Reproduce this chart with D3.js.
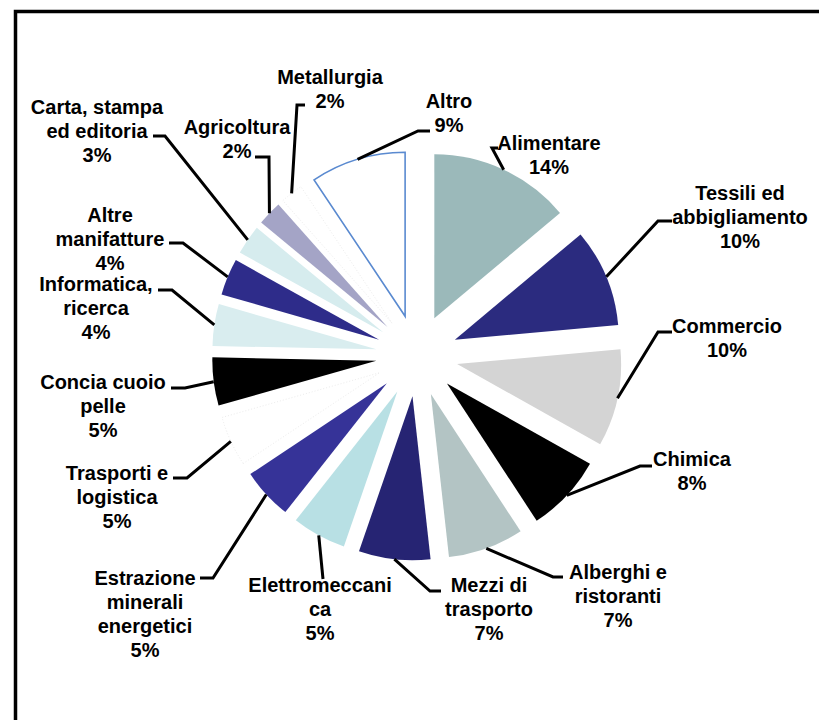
<!DOCTYPE html>
<html>
<head>
<meta charset="utf-8">
<script src="https://cdn.jsdelivr.net/npm/d3@7/dist/d3.min.js"></script>
<style>
  body { margin: 0; background: #fff; }
  svg text { font-family: "Liberation Sans", Arial, sans-serif; font-weight: bold; font-size: 20px; fill: #000; }
</style>
</head>
<body>
<svg width="819" height="720"></svg>
<script>
/* data (shares in %, slice order clockwise from 12 o'clock) */
var categories = [
  "Alimentare", "Tessili ed\nabbigliamento", "Commercio", "Chimica",
  "Alberghi e\nristoranti", "Mezzi di\ntrasporto", "Elettromeccani\nca",
  "Estrazione\nminerali\nenergetici", "Trasporti e\nlogistica", "Concia cuoio\npelle",
  "Informatica,\nricerca", "Altre\nmanifatture", "Carta, stampa\ned editoria",
  "Agricoltura", "Metallurgia", "Altro"
];
var shares = [13.8, 9.6, 9.5, 7.6, 7.4, 7.0, 5.3, 5.0, 4.9, 4.7, 4.1, 3.6, 2.9, 2.4, 2.2, 9.3];

/* styles */
var fills = ["#9bb9ba", "#2b2b7f", "#d4d4d4", "#000000", "#b3c4c4", "#262473", "#b8e0e4",
             "#363398", "#ffffff", "#000000", "#d9edef", "#2e2c8a", "#d6ecee", "#a4a4c6",
             "#ffffff", "#ffffff"];
var strokes = {8: "#ececec", 14: "#ececec", 15: "#5a8ad0"};

/* label layout: [x, y of first line, elbow x, elbow y, stub end x] */
var labelPos = [
  [549, 143, 492, 148, 498],
  [740, 193, 658, 221, 672],
  [727, 326, 658, 332, 672],
  [692, 459, 640, 466, 652],
  [618, 572, 553, 577, 563],
  [489, 585, 430, 591, 441],
  [320, 585, 323, 579, 323],
  [145, 578, 213, 578, 200],
  [117, 473, 187, 478, 173],
  [103, 382, 185, 388, 171],
  [96, 284, 172, 290, 158],
  [110, 215, 183, 243, 169],
  [97, 107, 165, 136, 153],
  [237, 127, 269, 157, 255],
  [330, 77, 297, 105, 305],
  [449, 101, 418, 131, 430]
];

var svg = d3.select("svg"),
    cx = 417, cy = 355.5,
    R = 164,
    explode = 41,
    lineH = 24;

svg.append("rect")
  .attr("x", 15.5).attr("y", 11.5)
  .attr("width", 900).attr("height", 900)
  .attr("fill", "none")
  .attr("stroke", "#000")
  .attr("stroke-width", 3.5);

var total = d3.sum(shares);

var pie = d3.pie().sort(null).value(function(d) { return d; });
var arcs = pie(shares);

var arc = d3.arc().innerRadius(0).outerRadius(R);

function dir(a) { return [Math.sin(a), -Math.cos(a)]; }

var g = svg.append("g").attr("transform", "translate(" + cx + "," + cy + ")");

g.selectAll("path.slice")
  .data(arcs)
  .enter().append("path")
  .attr("class", "slice")
  .attr("transform", function(d) {
    var u = dir((d.startAngle + d.endAngle) / 2);
    return "translate(" + (u[0] * explode) + "," + (u[1] * explode) + ")";
  })
  .attr("d", arc)
  .attr("fill", function(d, i) { return fills[i]; })
  .attr("stroke", function(d, i) { return strokes[i] || "none"; })
  .attr("stroke-width", function(d, i) { return i === 15 ? 1.6 : 1; })
  .attr("stroke-dasharray", function(d, i) { return (i === 8 || i === 14) ? "1,2" : null; });

// leader lines
var line = d3.line();
g.selectAll("path.leader")
  .data(arcs)
  .enter().append("path")
  .attr("class", "leader")
  .attr("d", function(d, i) {
    var u = dir((d.startAngle + d.endAngle) / 2);
    var p = labelPos[i];
    var start = [u[0] * (R + explode), u[1] * (R + explode)];
    return line([start, [p[2] - cx, p[3] - cy], [p[4] - cx, p[3] - cy]]);
  })
  .attr("fill", "none")
  .attr("stroke", "#000")
  .attr("stroke-width", 3);

// labels
var labels = svg.selectAll("text.lbl")
  .data(arcs)
  .enter().append("text")
  .attr("class", "lbl")
  .attr("text-anchor", "middle");

labels.each(function(d, i) {
  var p = labelPos[i];
  var lines = categories[i].split("\n").concat([Math.round(d.data / total * 100) + "%"]);
  d3.select(this).selectAll("tspan")
    .data(lines)
    .enter().append("tspan")
    .attr("x", p[0])
    .attr("y", function(t, k) { return p[1] + k * lineH; })
    .attr("dy", "0.35em")
    .text(function(t) { return t; });
});
</script>
</body>
</html>
